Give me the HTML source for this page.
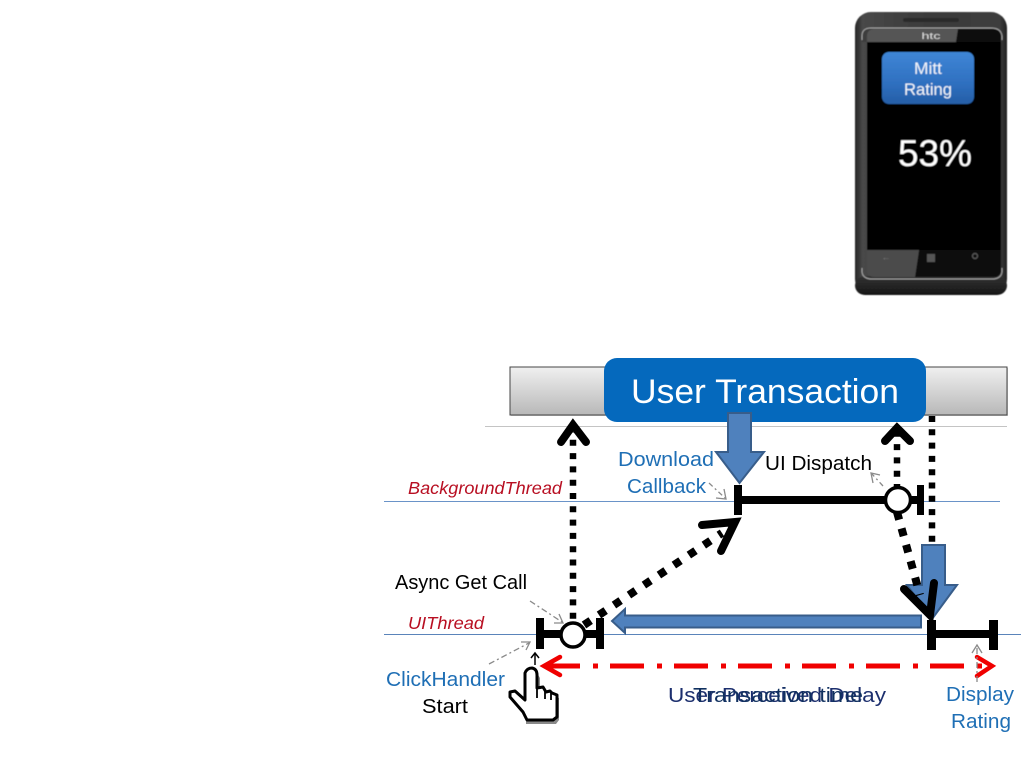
<!DOCTYPE html>
<html>
<head>
<meta charset="utf-8">
<style>
html,body{margin:0;padding:0;background:#fff}
svg{display:block;position:absolute;left:0;top:0}
text{font-family:"Liberation Sans",sans-serif}
</style>
</head>
<body>
<svg width="1024" height="768" viewBox="0 0 1024 768" xmlns="http://www.w3.org/2000/svg">
<defs>
<linearGradient id="bar" x1="0" y1="0" x2="0" y2="1"><stop offset="0" stop-color="#f0f0f0"/><stop offset="1" stop-color="#b8b8b8"/></linearGradient>
<linearGradient id="body" x1="0" y1="0" x2="1" y2="0"><stop offset="0" stop-color="#262626"/><stop offset=".05" stop-color="#484848"/><stop offset=".5" stop-color="#3a3a3a"/><stop offset=".95" stop-color="#3d3d3d"/><stop offset="1" stop-color="#222"/></linearGradient>
<linearGradient id="btn" x1="0" y1="0" x2="0" y2="1"><stop offset="0" stop-color="#3f86d6"/><stop offset=".6" stop-color="#2f70c0"/><stop offset="1" stop-color="#255ea6"/></linearGradient>
<linearGradient id="bot" x1="0" y1="0" x2="0" y2="1"><stop offset="0" stop-color="#333"/><stop offset="1" stop-color="#161616"/></linearGradient>
<filter id="soft" x="-5%" y="-5%" width="110%" height="110%"><feGaussianBlur stdDeviation="0.500"/></filter>
</defs>

<!-- phone -->
<g filter="url(#soft)">
<rect x="855" y="12" width="152" height="283" rx="16" fill="url(#body)"/>
<rect x="855" y="276" width="152" height="19" rx="10" fill="url(#bot)"/>
<rect x="903" y="18" width="56" height="4" rx="2" fill="#2c2c2c"/>
<path d="M862 42V36Q862 28 871 28H991Q1001 28 1002 36V42Z" fill="#3c3c3c"/>
<path d="M867 42V36Q867 29 875 29H958L956 42Z" fill="#555"/>
<path d="M958 29H993Q1001 29 1001 37V42H956Z" fill="#111"/>
<path d="M862 40V36Q862 28 871 28H991Q1001 28 1002 36V40" fill="none" stroke="#a5a5a5" stroke-width="1"/>
<path d="M862 268V272Q863 279 872 279H992Q1001 279 1002 272V268" fill="none" stroke="#a5a5a5" stroke-width="1"/>
<text x="931" y="39" font-size="9" fill="#ddd" text-anchor="middle" textLength="19" lengthAdjust="spacingAndGlyphs">htc</text>
<rect x="867" y="42" width="134" height="208" fill="#000"/>
<path d="M919 250H1001V270Q1001 277 993 277H915Z" fill="#0c0c0c"/>
<path d="M867 250H919L915 277H875Q867 277 867 270Z" fill="#4c4c4c"/>
<text x="886" y="260" font-size="9" fill="#777" text-anchor="middle">←</text>
<rect x="927" y="254" width="8" height="8" fill="#555"/>
<circle cx="975" cy="256" r="2.500" fill="none" stroke="#555" stroke-width="1.400"/>
<rect x="882" y="52" width="92" height="52" rx="7" fill="url(#btn)"/>
<text x="928" y="74" font-size="17" fill="#f2f6fb" text-anchor="middle" textLength="28" lengthAdjust="spacingAndGlyphs">Mitt</text>
<text x="928" y="95" font-size="17" fill="#f2f6fb" text-anchor="middle" textLength="48" lengthAdjust="spacingAndGlyphs">Rating</text>
<text x="898" y="166" font-size="37" fill="#fff" textLength="74" lengthAdjust="spacingAndGlyphs">53%</text>
</g>

<!-- bar and lines -->
<rect x="511" y="368" width="497" height="48" fill="#aaa" opacity=".6"/>
<rect x="510" y="367" width="497" height="48" fill="url(#bar)" stroke="#444" stroke-width="1"/>
<line x1="485" y1="426.500" x2="1007" y2="426.500" stroke="#c4c4c4" stroke-width="1"/>
<line x1="384" y1="501.500" x2="1000" y2="501.500" stroke="#6a93c8" stroke-width="1"/>
<line x1="384" y1="634.500" x2="1021" y2="634.500" stroke="#5a84ba" stroke-width="1"/>

<!-- far right dotted (behind banner) -->
<line x1="932" y1="416" x2="932" y2="548" stroke="#000" stroke-width="6.500" stroke-dasharray="6 7.300"/>

<!-- banner -->
<rect x="604" y="358" width="322" height="64" rx="13" fill="#0569bd"/>
<text x="631" y="403" font-size="34" fill="#fff" textLength="268" lengthAdjust="spacingAndGlyphs">User Transaction</text>

<!-- blue arrow from banner -->
<path d="M728 413H751V452H764L739.500 483L716 452H728Z" fill="#4f81bd" stroke="#385d8a" stroke-width="2"/>

<!-- left dotted up -->
<line x1="573" y1="632" x2="573" y2="432" stroke="#000" stroke-width="6.500" stroke-dasharray="6 7.300"/>
<polyline points="561,442 573,425 586,442" fill="none" stroke="#000" stroke-width="8" stroke-linecap="round"/>

<!-- right dotted up -->
<line x1="897" y1="490" x2="897" y2="432" stroke="#000" stroke-width="6.500" stroke-dasharray="6 7.300"/>
<polyline points="885,441 897,428 910,441" fill="none" stroke="#000" stroke-width="8" stroke-linecap="round"/>

<!-- blue right-down arrow -->
<path d="M922 545H945V585H957L932 619L907 585H922Z" fill="#4f81bd" stroke="#385d8a" stroke-width="2"/>

<!-- dotted diagonals -->
<line x1="584" y1="625" x2="722" y2="533" stroke="#000" stroke-width="8" stroke-dasharray="8 10"/>
<polyline points="702,525 735,522 721,551" fill="none" stroke="#000" stroke-width="8" stroke-linecap="round"/>
<line x1="897" y1="512" x2="920" y2="595" stroke="#000" stroke-width="8" stroke-dasharray="8 9"/>
<polyline points="904,589 930,615 934,583" fill="none" stroke="#000" stroke-width="8" stroke-linecap="round"/>

<!-- blue left arrow -->
<path d="M921 615.500V627.500H625V633L612 621L625 609V615.500Z" fill="#4f81bd" stroke="#385d8a" stroke-width="2"/>

<!-- background thread span -->
<rect x="734" y="485" width="8" height="30" fill="#000"/>
<rect x="738" y="496" width="182" height="8" fill="#000"/>
<rect x="917" y="485" width="7" height="30" fill="#000"/>
<circle cx="898" cy="500" r="12.500" fill="#fff" stroke="#000" stroke-width="3.500"/>

<!-- UI thread span left -->
<rect x="536" y="618" width="8" height="31" fill="#000"/>
<rect x="596" y="618" width="8" height="31" fill="#000"/>
<rect x="540" y="630" width="60" height="8" fill="#000"/>
<circle cx="573" cy="635" r="12" fill="#fff" stroke="#000" stroke-width="3.500"/>

<!-- UI thread span right -->
<rect x="927" y="620" width="9" height="30" fill="#000"/>
<rect x="989" y="620" width="9" height="30" fill="#000"/>
<rect x="932" y="630" width="62" height="8" fill="#000"/>

<!-- red arrow -->
<line x1="546" y1="666" x2="990" y2="666" stroke="#f00000" stroke-width="5" stroke-dasharray="34 13 5 12"/>
<polyline points="560,657 544,666 560,675" fill="none" stroke="#f00000" stroke-width="4.500" stroke-linecap="round"/>
<polyline points="977,657 992,666 977,676" fill="none" stroke="#f00000" stroke-width="4.500" stroke-linecap="round"/>

<!-- small gray callouts -->
<g fill="none" stroke="#8a8a8a" stroke-width="1.300">
<line x1="530" y1="601" x2="562" y2="622" stroke-dasharray="6 3 2 3"/>
<polyline points="554,623 563,623 559,614"/>
<line x1="489" y1="664" x2="529" y2="643" stroke-dasharray="6 3 2 3"/>
<polyline points="521,642 530,642 526,650"/>
<line x1="709" y1="483" x2="725" y2="498" stroke-dasharray="5 3 2 3"/>
<polyline points="716,498 726,499 724,489"/>
<line x1="883" y1="486" x2="872" y2="474" stroke-dasharray="5 3 2 3"/>
<polyline points="880,475 871,473 873,483"/>
<line x1="977" y1="682" x2="977" y2="646" stroke-dasharray="6 3 2 3"/>
<polyline points="972,653 977,645 982,653"/>
</g>
<line x1="535" y1="665" x2="535" y2="654" stroke="#000" stroke-width="1.500"/>
<polyline points="531,658 535,653 539,658" fill="none" stroke="#000" stroke-width="1.500"/>

<!-- hand -->
<path d="M528 676L536 671L540 678V691L546 690L549 695L553 694L555 696L559 698V720L556 724H526V720Z" fill="#8a8a8a"/>
<path d="M525 673Q527 668 532 668Q537 669 537 675V688L543 687L546 692L550 691L552 693L557 695V717L553 720H527L523 712L510 697V692L515 691L525 700Z" fill="#fff" stroke="#000" stroke-width="3" stroke-linejoin="round"/>
<path d="M537 688V698M545 691V699M551 693V700" stroke="#000" stroke-width="1.800" fill="none"/>

<!-- labels -->
<text x="408" y="494" font-size="17.500" font-style="italic" fill="#b80f22" textLength="154" lengthAdjust="spacingAndGlyphs">BackgroundThread</text>
<text x="408" y="629" font-size="17.500" font-style="italic" fill="#b80f22" textLength="76" lengthAdjust="spacingAndGlyphs">UIThread</text>
<text x="395" y="589" font-size="20" fill="#000" textLength="132" lengthAdjust="spacingAndGlyphs">Async Get Call</text>
<text x="386" y="686" font-size="20" fill="#1f6fb5" textLength="119" lengthAdjust="spacingAndGlyphs">ClickHandler</text>
<text x="422" y="713" font-size="20" fill="#000" textLength="46" lengthAdjust="spacingAndGlyphs">Start</text>
<text x="618" y="466" font-size="20" fill="#1f6fb5" textLength="96" lengthAdjust="spacingAndGlyphs">Download</text>
<text x="627" y="493" font-size="20" fill="#1f6fb5" textLength="79" lengthAdjust="spacingAndGlyphs">Callback</text>
<text x="765" y="470" font-size="20" fill="#000" textLength="107" lengthAdjust="spacingAndGlyphs">UI Dispatch</text>
<text x="668" y="702" font-size="20" fill="#1c2f6e" textLength="218" lengthAdjust="spacingAndGlyphs">User Perceived Delay</text>
<text x="693" y="702" font-size="20" fill="#10305f" textLength="170" lengthAdjust="spacingAndGlyphs">Transaction time</text>
<text x="946" y="701" font-size="20" fill="#1f6fb5" textLength="68" lengthAdjust="spacingAndGlyphs">Display</text>
<text x="951" y="728" font-size="20" fill="#1f6fb5" textLength="60" lengthAdjust="spacingAndGlyphs">Rating</text>
</svg>
</body>
</html>
